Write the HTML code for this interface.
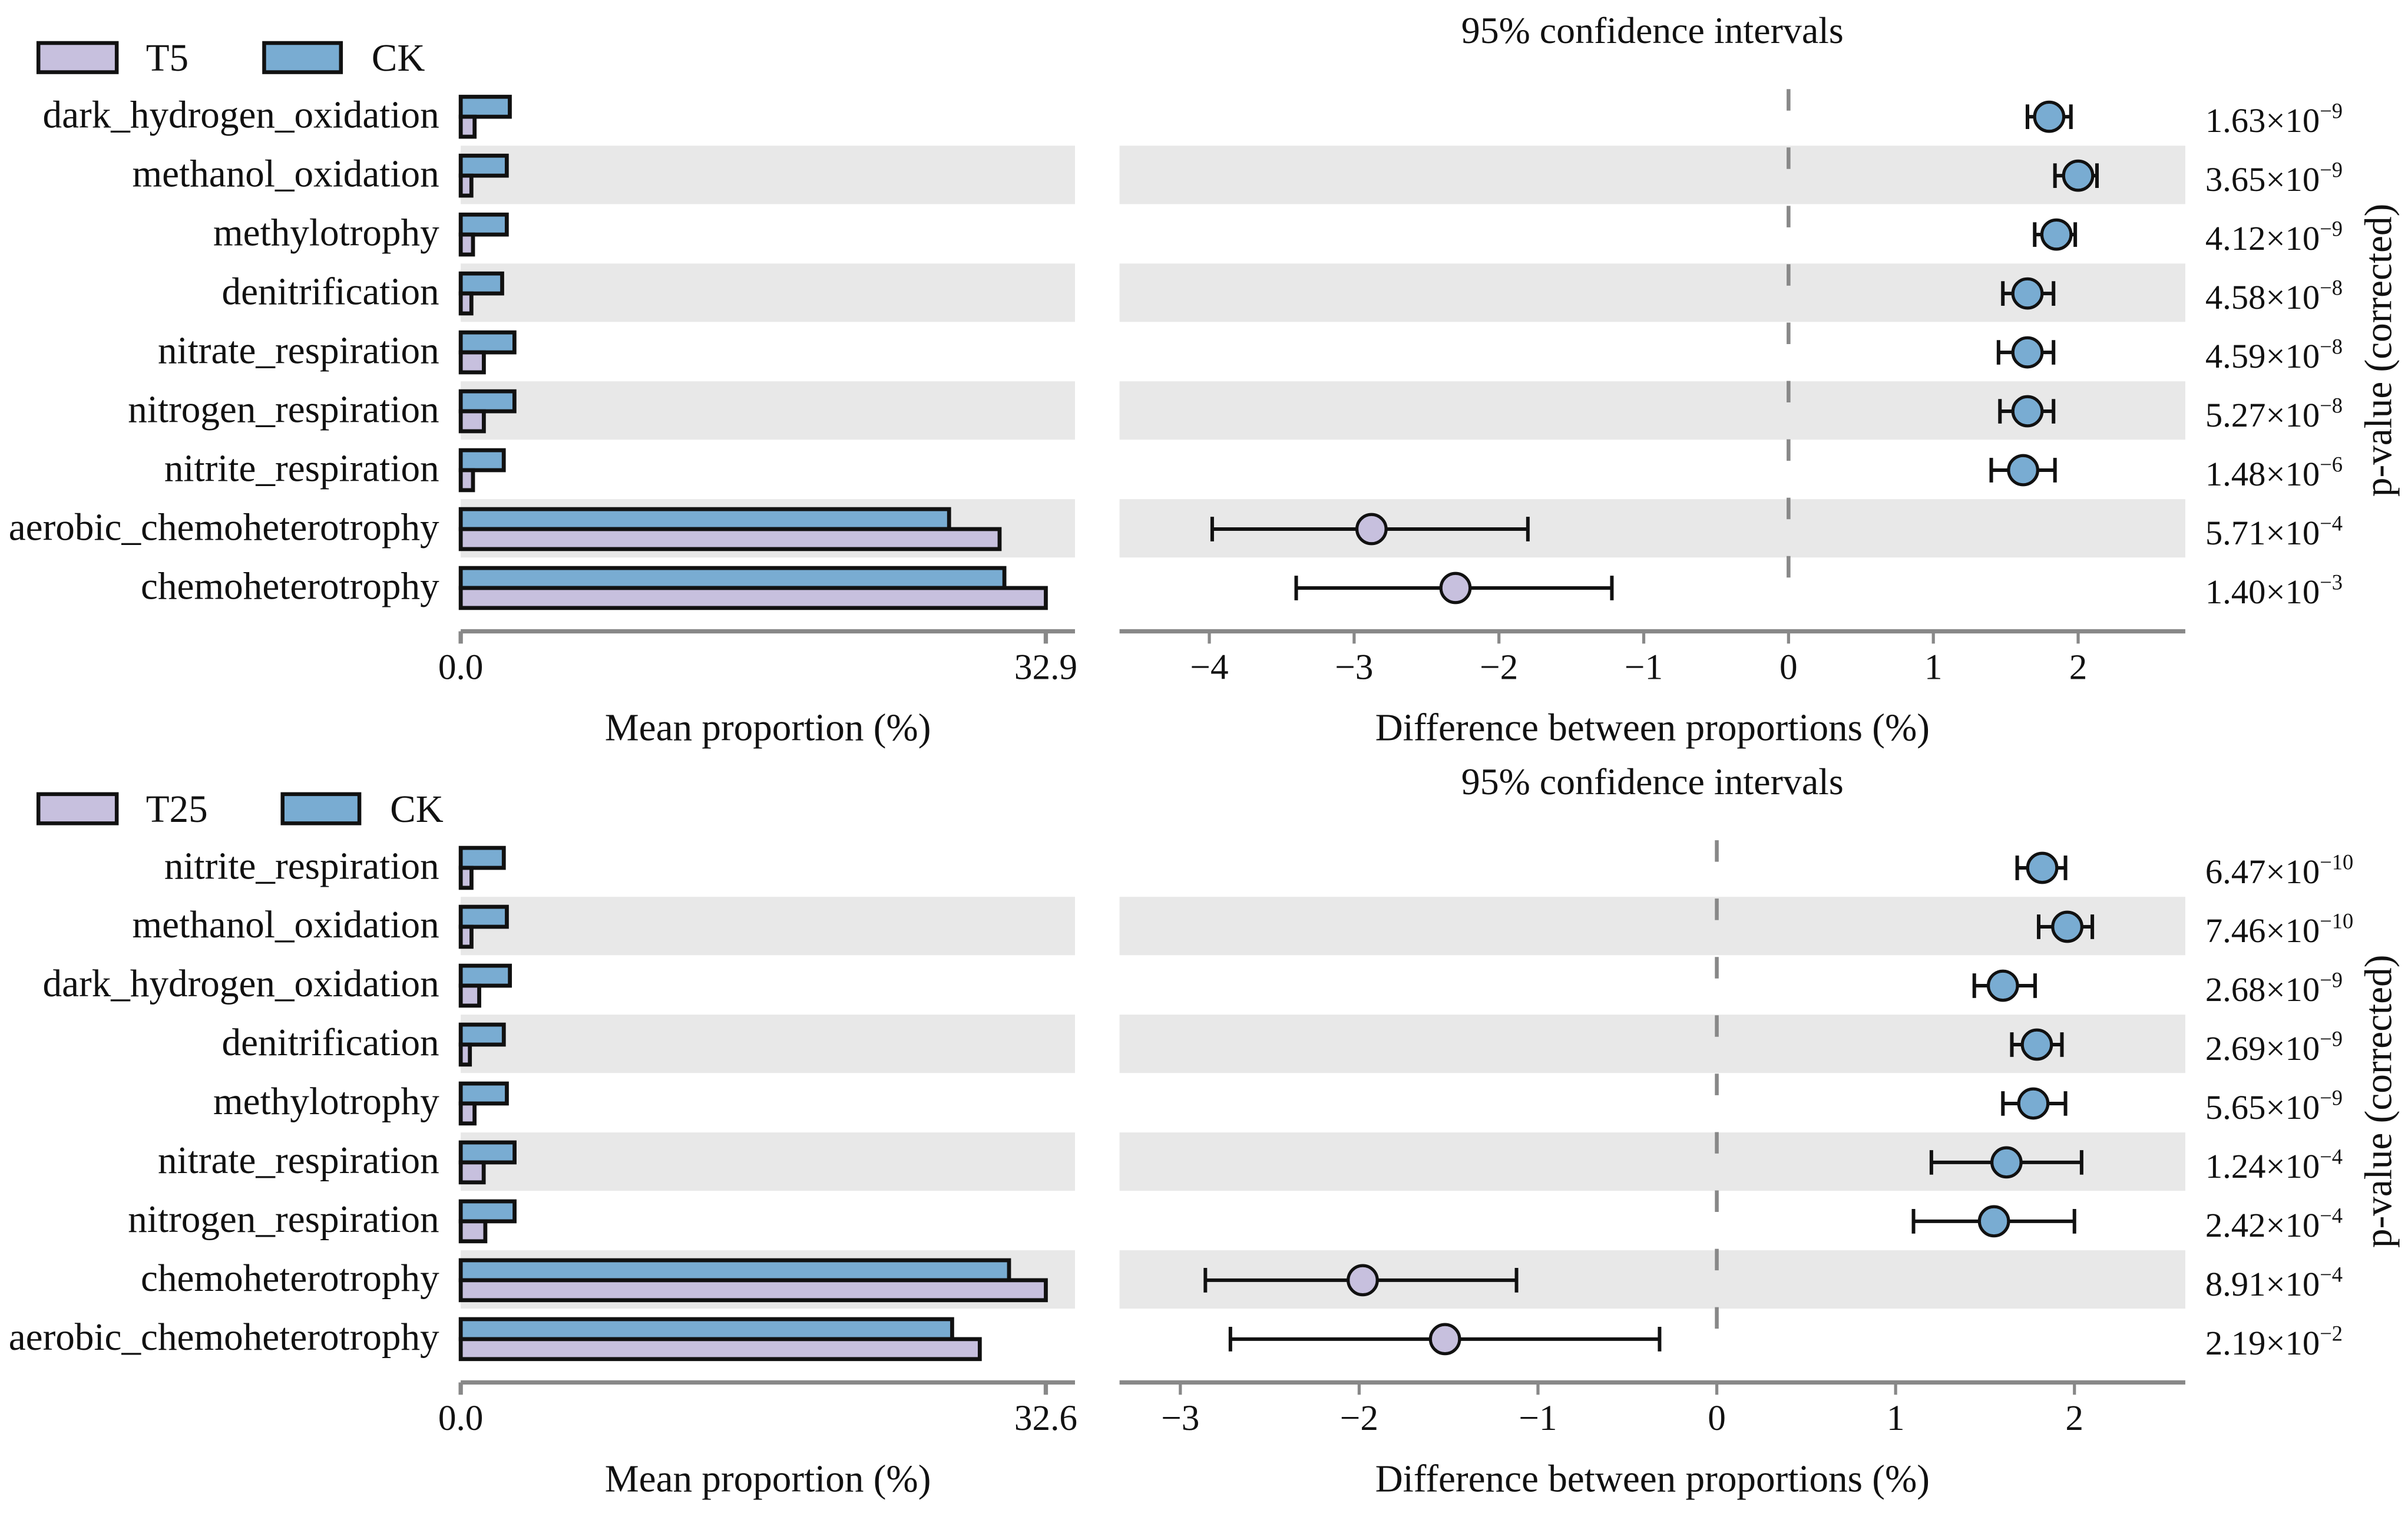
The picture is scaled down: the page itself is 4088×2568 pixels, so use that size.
<!DOCTYPE html>
<html><head><meta charset="utf-8"><style>
html,body{margin:0;padding:0;background:#fff}
svg{display:block}
text{font-family:"Liberation Serif",serif;fill:#111}
</style></head><body>
<svg id="chart" xmlns="http://www.w3.org/2000/svg" width="4088" height="2568" viewBox="0 0 1568 985"></svg>
<script>
// ---- Panel 1 data (T5 vs CK) ----
const cats1 = ["dark_hydrogen_oxidation","methanol_oxidation","methylotrophy","denitrification","nitrate_respiration","nitrogen_respiration","nitrite_respiration","aerobic_chemoheterotrophy","chemoheterotrophy"];
const ck1 = [2.76,2.59,2.59,2.33,3.02,3.02,2.42,27.46,30.57];
const trt1 = [0.78,0.6,0.69,0.6,1.3,1.3,0.69,30.3,32.9];
const diff1 = [1.8,2.0,1.85,1.65,1.65,1.65,1.62,-2.88,-2.3];
const lo1 = [1.65,1.84,1.7,1.48,1.45,1.46,1.4,-3.98,-3.4];
const hi1 = [1.95,2.13,1.98,1.83,1.83,1.83,1.84,-1.8,-1.22];
const pm1 = ["1.63","3.65","4.12","4.58","4.59","5.27","1.48","5.71","1.40"];
const pe1 = ["-9","-9","-9","-8","-8","-8","-6","-4","-3"];
const ticks1 = [-4,-3,-2,-1,0,1,2];
// ---- Panel 2 data (T25 vs CK) ----
const cats2 = ["nitrite_respiration","methanol_oxidation","dark_hydrogen_oxidation","denitrification","methylotrophy","nitrate_respiration","nitrogen_respiration","chemoheterotrophy","aerobic_chemoheterotrophy"];
const ck2 = [2.4,2.57,2.74,2.4,2.57,3.0,3.0,30.55,27.38];
const trt2 = [0.6,0.6,1.03,0.51,0.77,1.28,1.37,32.6,28.92];
const diff2 = [1.82,1.96,1.6,1.79,1.77,1.62,1.55,-1.98,-1.52];
const lo2 = [1.68,1.8,1.44,1.65,1.6,1.2,1.1,-2.86,-2.72];
const hi2 = [1.95,2.1,1.78,1.93,1.95,2.04,2.0,-1.12,-0.32];
const pm2 = ["6.47","7.46","2.68","2.69","5.65","1.24","2.42","8.91","2.19"];
const pe2 = ["-10","-10","-9","-9","-9","-4","-4","-4","-2"];
const ticks2 = [-3,-2,-1,0,1,2];

const NS="http://www.w3.org/2000/svg";
const svg=document.getElementById('chart');
const BLUE="#79acd2", PURP="#c7c0de";
function el(tag,attrs,parent,txt){const e=document.createElementNS(NS,tag);for(const k in attrs)e.setAttribute(k,attrs[k]);if(txt!==undefined)e.textContent=txt;(parent||svg).appendChild(e);return e;}

function panel(y0,trtName,cats,ck,trt,diff,lo,hi,pm,pe,ticks,maxV,dmin,dmax,pid){
  const g=el('g',{});
  
  
  const rowY=i=>y0+76+i*38.35;
  const bx=v=>300+v/maxV*381;
  const dx=v=>729+(v-dmin)/(dmax-dmin)*694;
  let r=el('rect',{x:25,y:y0+28,width:51,height:19,fill:PURP,stroke:'#111','stroke-width':2.5},g);
  
  let t=el('text',{x:95,y:y0+46,'font-size':25},g,trtName);
  
  const ckx = trtName==='T5'?172:184;
  r=el('rect',{x:ckx,y:y0+28,width:50,height:19,fill:BLUE,stroke:'#111','stroke-width':2.5},g);
  
  t=el('text',{x:ckx+70,y:y0+46,'font-size':25},g,'CK');
  
  t=el('text',{x:1076,y:y0+28,'font-size':24.5,'text-anchor':'middle'},g,'95% confidence intervals');
  
  for(let i=0;i<cats.length;i++){
    const cy=rowY(i);
    if(i%2===1){
      let b=el('rect',{x:300,y:cy-19.5,width:400,height:38,fill:'#e8e8e8'},g);
      
      b=el('rect',{x:729,y:cy-19.5,width:694,height:38,fill:'#e8e8e8'},g);
      
    }
  }
  let z=el('line',{x1:dx(0),x2:dx(0),y1:y0+58,y2:y0+400,stroke:'#888','stroke-width':2.5,'stroke-dasharray':'14,24'},g);
  
  for(let i=0;i<cats.length;i++){
    const cy=rowY(i);
    let lab=el('text',{x:286,y:cy+7,'font-size':25,'text-anchor':'end'},g,cats[i]);
    
    let b=el('rect',{x:300,y:cy-13,width:bx(ck[i])-300,height:13,fill:BLUE,stroke:'#111','stroke-width':2.6},g);
    
    b=el('rect',{x:300,y:cy,width:bx(trt[i])-300,height:13,fill:PURP,stroke:'#111','stroke-width':2.6},g);
    
    const x1=dx(lo[i]),x2=dx(hi[i]);
    let e=el('path',{d:`M${x1},${cy-8}V${cy+8}M${x1},${cy}H${x2}M${x2},${cy-8}V${cy+8}`,stroke:'#111','stroke-width':2.3,fill:'none'},g);
    
    let c=el('circle',{cx:dx(diff[i]),cy:cy,r:9.5,fill:diff[i]>=0?BLUE:PURP,stroke:'#111','stroke-width':2},g);
    
    let p=el('text',{x:1436,y:cy+10,'font-size':22.5},g);
    
    el('tspan',{},p,pm[i]+'×10');
    el('tspan',{dy:-9,'font-size':14},p,pe[i].replace('-','−'));
  }
  const ay=y0+411;
  let a=el('path',{d:`M300,${ay}H700M300,${ay}V${ay+8}M681,${ay}V${ay+8}`,stroke:'#888','stroke-width':2.8,fill:'none'},g);
  
  let tl=el('text',{x:300,y:ay+31,'font-size':23.5,'text-anchor':'middle'},g,'0.0');
  
  tl=el('text',{x:681,y:ay+31,'font-size':23.5,'text-anchor':'middle'},g,String(maxV));
  
  a=el('line',{x1:729,x2:1423,y1:ay,y2:ay,stroke:'#888','stroke-width':2.8},g);
  
  ticks.forEach(v=>{
    let tk=el('line',{x1:dx(v),x2:dx(v),y1:ay,y2:ay+8,stroke:'#888','stroke-width':2},g);
    
    let tx=el('text',{x:dx(v),y:ay+31,'font-size':23.5,'text-anchor':'middle'},g,v<0?'−'+(-v):String(v));
    
  });
  let at=el('text',{x:500,y:ay+71,'font-size':25,'text-anchor':'middle'},g,'Mean proportion (%)');
  
  at=el('text',{x:1076,y:ay+71,'font-size':25,'text-anchor':'middle'},g,'Difference between proportions (%)');
  
  at=el('text',{x:0,y:0,'font-size':25,'text-anchor':'middle',transform:`translate(1557,${y0+228}) rotate(-90)`},g,'p-value (corrected)');
  
}
panel(0,'T5',cats1,ck1,trt1,diff1,lo1,hi1,pm1,pe1,ticks1,32.9,-4.62,2.74,'t5');
panel(489,'T25',cats2,ck2,trt2,diff2,lo2,hi2,pm2,pe2,ticks2,32.6,-3.34,2.62,'t25');
</script>
</body></html>
